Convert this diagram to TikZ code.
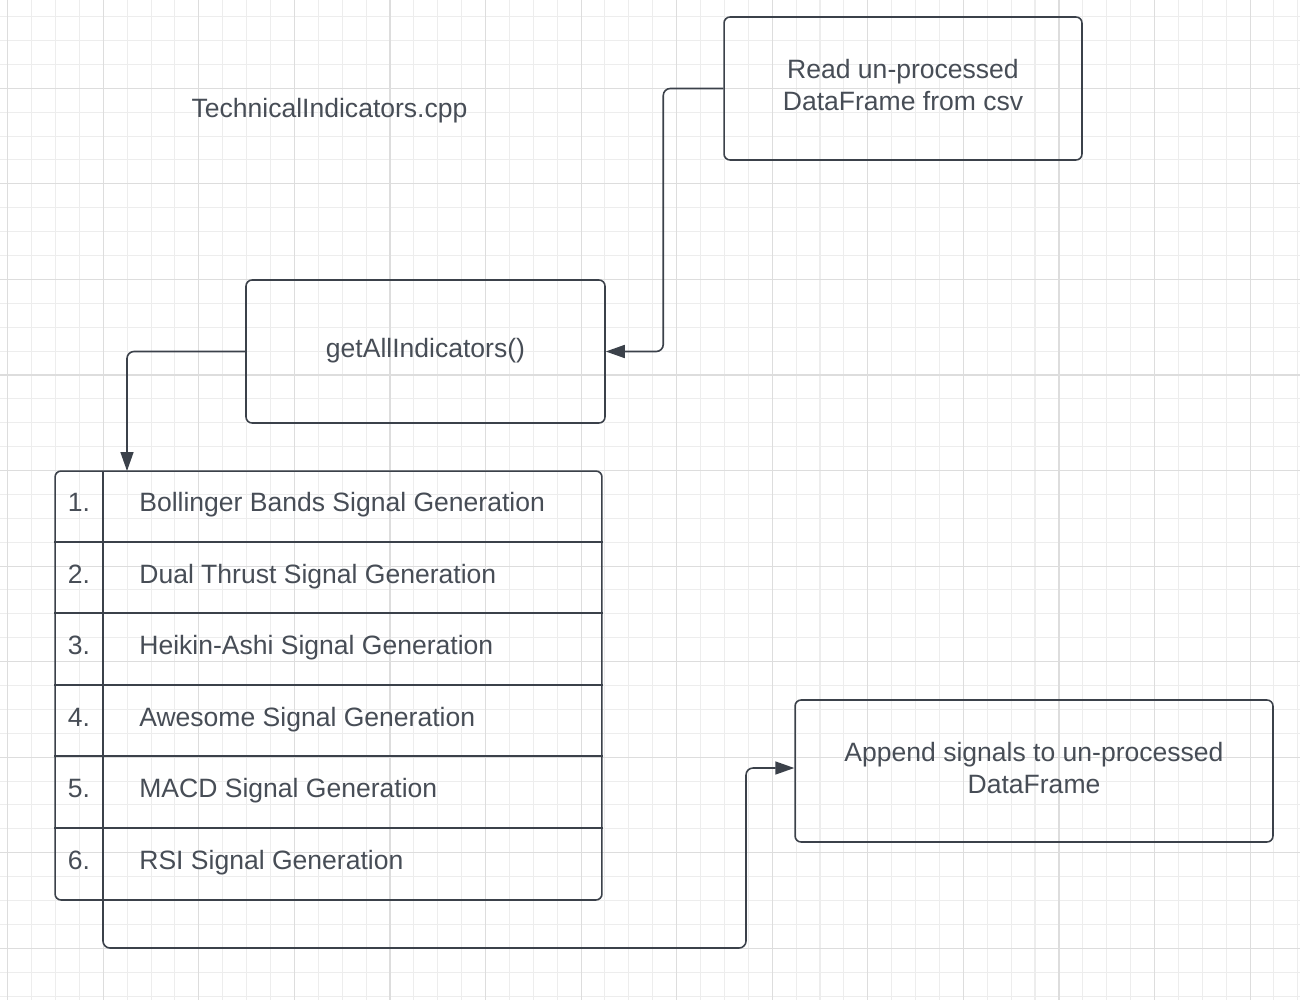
\documentclass[tikz,border=0pt]{standalone}
\usepackage{fontspec}
\setmainfont{Liberation Sans}
\usepackage{tikz}
\usetikzlibrary{arrows.meta, calc, positioning}

\definecolor{lineGray}{HTML}{3B414A}
\definecolor{textGray}{HTML}{474D56}
\definecolor{gridMinor}{HTML}{EDEDED}
\definecolor{gridMajor}{HTML}{DDDDDD}

\begin{document}
\begin{tikzpicture}[x=0.02cm, y=-0.02cm, >={Triangle[length=0.38cm, width=0.26cm]},
  box/.style={draw=lineGray, line width=0.9pt, rounded corners=0.12cm, align=center,
    text=textGray, text depth=4pt, font=\fontsize{15.1}{18.2}\selectfont},
  conn/.style={->, color=lineGray, line width=0.9pt, rounded corners=0.14cm},
  label/.style={text=textGray, inner sep=0pt, font=\fontsize{15.1}{18.2}\selectfont}]
  \useasboundingbox (0,0) rectangle (1300,1000);
  \fill[white] (0,0) rectangle (1300,1000);

  % background grid
  \foreach \i in {-1,...,54} {
      \pgfmathtruncatemacro\ismajor{mod(\i+4,4)==0}
      \ifnum\ismajor=0
        \draw[gridMinor, line width=0.6pt] ({7.7+23.89*\i},0) -- ({7.7+23.89*\i},1000);
      \fi
  };
  \foreach \j in {0,...,42} {
      \pgfmathtruncatemacro\ismajor{mod(\j,4)==0}
      \ifnum\ismajor=0
        \draw[gridMinor, line width=0.6pt] (0,{-7.3+23.89*\j}) -- (1300,{-7.3+23.89*\j});
      \fi
  };
  \foreach \i in {0,...,13} {
      \draw[gridMajor, line width=0.6pt] ({7.7+95.57*\i},0) -- ({7.7+95.57*\i},1000);
  };
  \foreach \j in {1,...,10} {
      \draw[gridMajor, line width=0.6pt] (0,{-7.3+95.57*\j}) -- (1300,{-7.3+95.57*\j});
  };

  \node[label] (title) at (329.5,111) {TechnicalIndicators.cpp};

  \node[box, minimum width=7.16cm, minimum height=2.86cm] (readcsv) at (903,88.5)
    {Read un-processed\\DataFrame from csv};
  \node[box, minimum width=7.18cm, minimum height=2.86cm] (getall) at (425.5,351.5)
    {getAllIndicators()};
  \node[box, minimum width=9.56cm, minimum height=2.84cm] (appendsig) at (1034,771)
    {Append signals to un-processed\\DataFrame};
  \node[box, minimum width=10.94cm, minimum height=8.58cm] (sigtable) at (328.5,685.5) {};

  % table rows
  \coordinate (tabin) at (127,471);
  \coordinate (divtop) at (103,471);
  \coordinate (tabout) at (103,900);
  \draw[lineGray, line width=0.9pt] (divtop) -- (tabout);
  \foreach \n in {1,...,5} {
      \draw[lineGray, line width=0.9pt] ($(sigtable.north west)+(0,71.5*\n)$) -- ($(sigtable.north east)+(0,71.5*\n)$);
  };
  \foreach \n/\sig in {1/Bollinger Bands Signal Generation, 2/Dual Thrust Signal Generation,
      3/Heikin-Ashi Signal Generation, 4/Awesome Signal Generation,
      5/MACD Signal Generation, 6/RSI Signal Generation} {
      \node[label] (num\n) at (79,{471+71.5*\n-40}) {\n.};
      \node[label, anchor=west] (sig\n) at (139,{471+71.5*\n-37.5}) {\sig};
  };

  % connectors
  \draw[conn] (readcsv.west) -- ++(-60,0) |- (getall.east);
  \draw[conn] (getall.west) -| (tabin);
  \draw[conn] (tabout) -- ++(0,48) -- ++(643,0) |- ([yshift=0.06cm]appendsig.west);
\end{tikzpicture}
\end{document}
